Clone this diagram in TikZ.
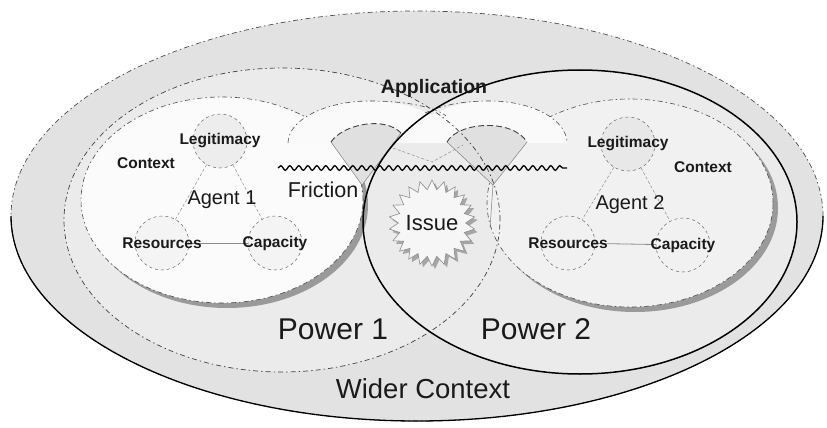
\documentclass[tikz,border=0pt]{standalone}
\usepackage{fontspec}
\setmainfont{Liberation Sans}
\usetikzlibrary{shapes.geometric,decorations.pathmorphing}
\definecolor{outerfill}{HTML}{E2E2E2}
\definecolor{powerfill}{HTML}{EBEBEB}
\definecolor{agentonefill}{HTML}{FBFBFB}
\definecolor{agenttwofill}{HTML}{F1F1F1}
\definecolor{lobefill}{HTML}{FAFAFA}
\definecolor{fanfill}{HTML}{E0E0E0}
\definecolor{circfill}{HTML}{EDEDED}
\definecolor{circtwofill}{HTML}{E8E8E8}
\definecolor{shadowgray}{HTML}{9A9A9A}
\definecolor{txt}{HTML}{1A1A1A}
\begin{document}
\begin{tikzpicture}[x=1pt,y=-1pt,
  dashdot/.style={dash pattern=on 5pt off 3pt on 1.5pt off 3pt},
  agentborder/.style={draw=black!70,line width=0.6pt,dashdot},
  circbox/.style={circle,draw=black!60,line width=0.5pt,dash pattern=on 3pt off 3pt,minimum size=54pt,inner sep=0pt},
  smalllbl/.style={font=\fontsize{15.5}{16}\selectfont\bfseries,text=txt,inner sep=0pt},
  midlbl/.style={font=\fontsize{20}{22}\selectfont,text=txt,inner sep=0pt},
  biglbl/.style={font=\fontsize{30}{32}\selectfont,text=txt,inner sep=0pt},
  triline/.style={draw=black!45,line width=0.5pt,dash pattern=on 3pt off 2pt},
  baseline/.style={draw=black!45,line width=0.8pt},
  fanside/.style={draw=black!50,line width=0.5pt},
  fantop/.style={draw=black!75,line width=0.9pt,dash pattern=on 6pt off 3pt},
]
\useasboundingbox (0,0) rectangle (827,428);

% Wider context
\fill[outerfill] (417,216) ellipse [x radius=406pt, y radius=205pt];
% Power areas
\fill[powerfill] (282,220) ellipse [x radius=218pt, y radius=152pt];
\fill[powerfill] (580,222) ellipse [x radius=217pt, y radius=152pt];

% agent shadows
\fill[shadowgray] (227,205) ellipse [x radius=141pt, y radius=103pt];
\fill[shadowgray] (635,208) ellipse [x radius=143pt, y radius=104pt];
% agent areas
\fill[agentonefill] (222,200) ellipse [x radius=141pt, y radius=103pt];
\draw[agentborder] (222,200) ellipse [x radius=141pt, y radius=103pt];
\fill[agenttwofill] (630,203) ellipse [x radius=143pt, y radius=104pt];
\draw[agentborder] (630,203) ellipse [x radius=143pt, y radius=104pt];

% application lobes
\fill[lobefill] (288,143) .. controls (288,120) and (325,101) .. (370,101)
   .. controls (415,101) and (452,120) .. (452,143) -- cycle;
\fill[lobefill] (413,143) .. controls (413,120) and (447,101) .. (490,101)
   .. controls (533,101) and (567,120) .. (567,143) -- cycle;
\draw[agentborder] (288,143) .. controls (288,120) and (325,101) .. (370,101)
   .. controls (415,101) and (440,110) .. (446,116);
\draw[agentborder] (425,113) .. controls (445,104) and (465,101) .. (490,101)
   .. controls (533,101) and (567,120) .. (567,143);

% fans
\coordinate (fanAapex) at (362,185);
\coordinate (fanAl) at (331,142);
\coordinate (fanAr) at (401,133);
\coordinate (fanBapex) at (493,185);
\coordinate (fanBl) at (447,142);
\coordinate (fanBr) at (527,142);
\fill[fanfill] (fanAapex) -- (fanAl) .. controls (343,124) and (385,116) .. (fanAr) -- cycle;
\draw[fanside] (fanAl) -- (fanAapex) -- (fanAr);
\draw[fantop] (fanAl) .. controls (343,124) and (385,116) .. (fanAr);
\fill[fanfill] (fanBapex) -- (fanBl) .. controls (458,122) and (512,118) .. (fanBr) -- cycle;
\draw[fanside] (fanBl) -- (fanBapex) -- (fanBr);
\draw[fantop] (fanBl) .. controls (458,122) and (512,118) .. (fanBr);
\draw[fanside] (fanBapex) -- (490,228);

% V lines towards issue
\coordinate (vl) at (393,148);
\coordinate (vtop) at (432,162);
\coordinate (vr) at (463,145);
\draw[triline] (vl) -- (vtop) -- (vr);

% Agent 1 triangle
\node[circbox,fill=circfill] (lc1) at (220,141) {};
\node[circbox,fill=circfill!60!white] (rc1) at (162,243) {};
\node[circbox,fill=circfill!60!white] (cc1) at (275,243) {};
\draw[triline] (lc1) -- (rc1);
\draw[triline] (lc1) -- (cc1);
\draw[baseline] (rc1) -- (cc1);
% Agent 2 triangle
\node[circbox,fill=circtwofill] (lc2) at (628,144) {};
\node[circbox,fill=agenttwofill] (rc2) at (568,243) {};
\node[circbox,fill=agenttwofill] (cc2) at (683,245) {};
\draw[triline] (lc2) -- (rc2);
\draw[triline] (lc2) -- (cc2);
\draw[baseline] (rc2) -- (cc2);

% Issue star
\node[star,star points=22,star point ratio=1.28,minimum size=86pt,inner sep=0pt,
      fill=black!35] (issueshadow) at (435,226) {};
\node[star,star points=22,star point ratio=1.28,minimum size=86pt,inner sep=0pt,
      fill=powerfill!45!white,draw=black!45,line width=0.6pt] (issue) at (432,223) {};
\node[font=\fontsize{22}{24}\selectfont,text=txt,inner sep=0pt] (issuetxt) at (issue) {Issue};

% borders of power ellipses
\draw[black!75,line width=0.7pt,dashdot] (282,220) ellipse [x radius=218pt, y radius=152pt];
\draw[black,line width=1.5pt] (580,222) ellipse [x radius=217pt, y radius=152pt];

% outer border
\draw[black!70,line width=0.7pt,dash pattern=on 5pt off 3pt on 1.5pt off 3pt] (417,216) ellipse [x radius=406pt, y radius=205pt];
\draw[black,line width=1.3pt] (11,216) .. controls (11,329) and (193,421) .. (417,421)
   .. controls (641,421) and (823,329) .. (823,216);

% friction wavy line
\coordinate (fl) at (278,168);
\coordinate (fr) at (567,168);
\draw[black,line width=1.3pt,decorate,decoration={snake,segment length=9pt,amplitude=2.3pt}] (fl) -- (fr);

% labels
\node[font=\fontsize{19.5}{21}\selectfont\bfseries,text=txt,inner sep=0pt] (app) at (434,88) {Application};
\node[smalllbl] (ctx1) at (146,163) {Context};
\node[smalllbl] (ctx2) at (703,167) {Context};
\node[smalllbl] (leg1) at (lc1) {Legitimacy};
\node[smalllbl] (res1) at (rc1) {Resources};
\node[smalllbl] (cap1) at (cc1) {Capacity};
\node[smalllbl] (leg2) at (lc2) {Legitimacy};
\node[smalllbl] (res2) at (rc2) {Resources};
\node[smalllbl] (cap2) at (cc2) {Capacity};
\node[midlbl] (ag1) at (222,200) {Agent 1};
\node[midlbl] (ag2) at (630,205) {Agent 2};
\node[font=\fontsize{21.5}{23}\selectfont,text=txt,inner sep=0pt] (fric) at (323,190) {Friction};
\node[biglbl] (pw1) at (333,329) {Power 1};
\node[biglbl] (pw2) at (536,329) {Power 2};
\node[font=\fontsize{27.5}{29}\selectfont,text=txt,inner sep=0pt] (wider) at (423,389) {Wider Context};
\end{tikzpicture}
\end{document}
